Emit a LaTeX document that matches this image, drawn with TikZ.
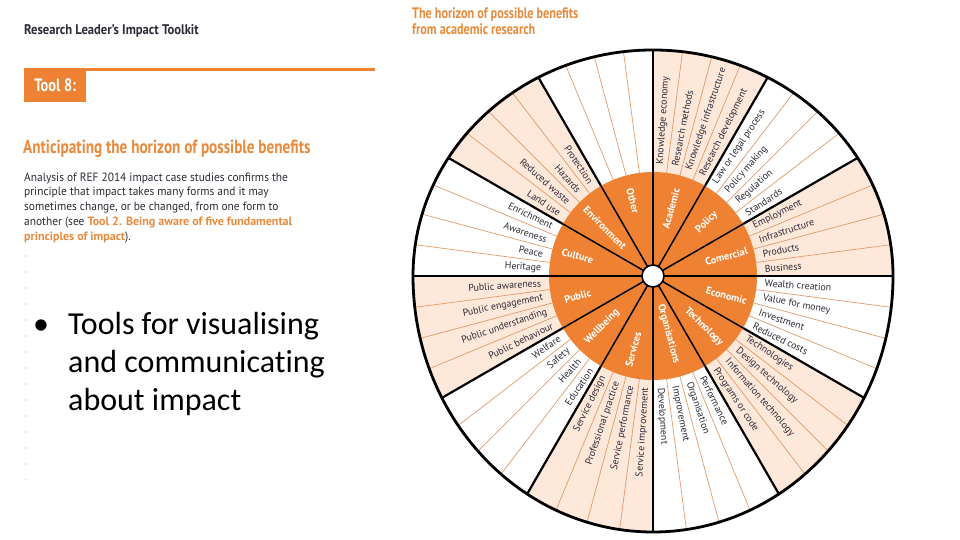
\documentclass[tikz,border=0pt]{standalone}
\usepackage{fontspec}
\setmainfont{PT Sans}
\newfontfamily\condf[FakeStretch=0.8]{PT Sans}
\newfontfamily\hdrf[FakeStretch=0.9]{PT Sans}
\newfontfamily\paraf[FakeStretch=0.95]{PT Sans}
\newfontfamily\parab[FakeStretch=1.0]{PT Sans}
\newfontfamily\carl[Ligatures=NoCommon]{Carlito}
\definecolor{orng}{HTML}{EE8232}
\definecolor{peach}{HTML}{FDE8DA}
\definecolor{thinor}{HTML}{E49A6A}
\definecolor{ttl}{HTML}{E98A3C}
\definecolor{ink}{HTML}{2E2A36}
\tikzset{
  lab/.style={inner sep=0, text=ink, font=\fontsize{9.9}{11}\selectfont},
  inlab/.style={inner sep=0, text=white, font=\bfseries\fontsize{10.3}{12}\selectfont},
  thick line/.style={line width=2.2},
  thin line/.style={thinor, line width=0.7},
  ttltext/.style={inner sep=0, anchor=west, text=ttl, font=\condf\bfseries\fontsize{15.2}{17}\selectfont},
  bul/.style={inner sep=0, anchor=base west, font=\carl\fontsize{32}{38}\selectfont}
}
\begin{document}
\begin{tikzpicture}[x=1pt,y=1pt]
\useasboundingbox (0,0) rectangle (960,540);
\fill[white] (0,0) rectangle (960,540);

% ---------- left panel ----------
\node[inner sep=0, anchor=west, text=ink, font=\hdrf\bfseries\fontsize{14}{16}\selectfont] (hdr) at (24,509) {Research Leader’s Impact Toolkit};
\coordinate (rl) at (24,470);
\coordinate (rr) at (375,470);
\draw[orng, line width=3] (rl) -- (rr);
\node[fill=orng, anchor=north west, minimum width=62, minimum height=33, inner sep=0, text=white,
      font=\condf\bfseries\fontsize{18}{20}\selectfont] (tool) at (24,471) {Tool 8:};
\node[ttltext, font=\condf\bfseries\fontsize{19}{21}\selectfont] (antic) at (23,391) {Anticipating the horizon of possible benefits};
\node[inner sep=0, anchor=north west, align=left, text=ink, font=\paraf\fontsize{12}{14.7}\selectfont] (para) at (24,367.5)
 {Analysis of REF 2014 impact case studies confirms the\\
  principle that impact takes many forms and it may\\
  sometimes change, or be changed, from one form to\\
  another (see {\color{ttl}\parab\bfseries Tool 2. Being aware of five fundamental}\\
  {\color{ttl}\parab\bfseries principles of impact}).};
\coordinate (dl1) at (25,285);
\coordinate (dl2) at (25,60);
\draw[black!18, line width=1, dash pattern=on 2pt off 14pt] (dl1) -- (dl2);

\node[bul] (dot) at (33,205) {•};
\node[bul] (b1) at (68,205) {Tools for visualising};
\node[bul] (b2) at (68,167) {and communicating};
\node[bul] (b3) at (68,129) {about impact};

% ---------- wheel title ----------
\node[ttltext] (wt1) at (412,525) {The horizon of possible benefits};
\node[ttltext] (wt2) at (412,511) {from academic research};

% ---------- wheel ----------
\begin{scope}[shift={(653,264)}]
  \begin{scope}
    \clip (240,0) arc[start angle=0, end angle=180, x radius=240, y radius=226]
                  arc[start angle=180, end angle=360, x radius=240, y radius=256] -- cycle;
    \foreach \a in {90,30,-30,-90,-150,150}
      \fill[peach] (0,0) -- (\a:400) arc[start angle=\a, end angle=\a-30, radius=400] -- cycle;
    \foreach \s in {0,30,...,330}
      \foreach \d in {7.5,15,22.5}
        \draw[thin line] (\s+\d:104) -- (\s+\d:400);
    \foreach \a in {30,60,90,120,150,210,240,270,300,330}
      \draw[thick line] (\a:104) -- (\a:400);
    \draw[line width=2.8] (-400,0) -- (400,0);
  \end{scope}
  \fill[orng] (0,0) circle (104);
  \foreach \a in {30,60,90,120,150,210,240,270,300,330}
    \draw[line width=1.5] (\a:11) -- (\a:104);
  \draw[line width=1.8] (-104,0) -- (104,0);
  \draw[line width=2.8] (240,0) arc[start angle=0, end angle=180, x radius=240, y radius=226]
                  arc[start angle=180, end angle=360, x radius=240, y radius=256] -- cycle;
  \node[circle, draw, fill=white, line width=1.6, minimum size=22, inner sep=0] (hub) at (0,0) {};

  % outer labels, right half
  \foreach \a/\t [count=\i] in {
     86.25/Knowledge economy, 78.75/Research methods, 71.25/Knowledge infrastructure, 63.75/Research development,
     56.25/Law or legal process, 48.75/Policy making, 41.25/Regulation, 33.75/Standards,
     26.25/Employment, 18.75/Infrastructure, 11.25/Products, 3.75/Business,
     -3.75/Wealth creation, -11.25/Value for money, -18.75/Investment, -26.25/Reduced costs,
     -33.75/Technologies, -41.25/Design technology, -48.75/Information technology, -56.25/Programs or code,
     -63.75/Performance, -71.25/Organisation, -78.75/Improvement, -86.25/Development}
    \node[lab, anchor=west, rotate=\a] (r\i) at (\a:112) {\t};
  % outer labels, left half
  \foreach \a/\t [count=\i] in {
     -93.75/Service improvement, -101.25/Service performance, -108.75/Professional practice, -116.25/Service design,
     -123.75/Education, -131.25/Health, -138.75/Safety, -146.25/Welfare,
     -153.75/Public behaviour, -161.25/Public understanding, -168.75/Public engagement, -176.25/Public awareness,
     176.25/Heritage, 168.75/Peace, 161.25/Awareness, 153.75/Enrichment,
     146.25/Land use, 138.75/Reduced waste, 131.25/Hazards, 123.75/Protection}
    \node[lab, anchor=east, rotate=\a+180] (l\i) at (\a:112) {\t};

  % inner labels
  \foreach \a/\r/\t [count=\i] in {75/70/Academic, 45/76/Policy, 15/76/Comercial, -15/76/Economic,
                                   -45/72/Technology, -75/60/Organisations}
    \node[inlab, rotate=\a] (ir\i) at (\a:\r) {\t};
  \foreach \a/\r/\t [count=\i] in {-105/76/Services, -135/72/Wellbeing, -165/78/Public, 165/78/Culture,
                                   135/68/Environment, 105/78/Other}
    \node[inlab, rotate=\a+180] (il\i) at (\a:\r) {\t};
\end{scope}
\end{tikzpicture}
\end{document}
